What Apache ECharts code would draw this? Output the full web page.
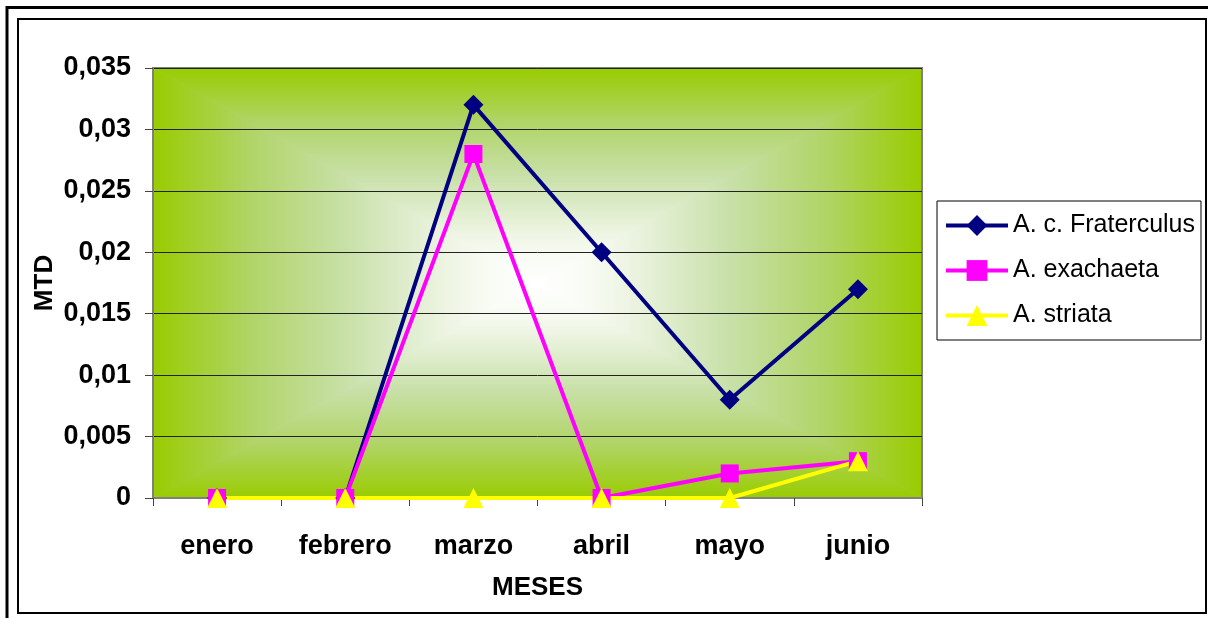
<!DOCTYPE html>
<html>
<head>
<meta charset="utf-8">
<script src="https://cdn.jsdelivr.net/npm/echarts@6/dist/echarts.min.js"></script>
<style>
html,body{margin:0;padding:0;background:#fff;}
#c{width:1208px;height:618px;}
</style>
</head>
<body>
<div id="c"></div>
<script>
var categories = ['enero', 'febrero', 'marzo', 'abril', 'mayo', 'junio'];
var fraterculus = [0, 0, 0.032, 0.020, 0.008, 0.017];
var exachaeta = [0, 0, 0.028, 0, 0.002, 0.003];
var striata = [0, 0, 0, 0, 0, 0.003];
var seriesNames = ['A. c. Fraterculus', 'A. exachaeta', 'A. striata'];

var G = {left: 153, top: 68, width: 769, height: 430};

var chart = echarts.init(document.getElementById('c'));
var font = 'Liberation Sans, Arial, sans-serif';

// edge-to-centre colour profile of the "from centre" plot-area fill
var prof = [[0, '#99cc00'], [0.25, '#b0d466'], [0.5, '#c8e0a8'], [0.64, '#dcebc8'], [0.77, '#eef5e4'], [0.88, '#f9fcf5'], [1, '#ffffff']];
function grad(x0, y0, x1, y1) {
  return new echarts.graphic.LinearGradient(x0, y0, x1, y1,
    prof.map(function (p) { return {offset: p[0], color: p[1]}; }));
}
var L = G.left, T = G.top, R = G.left + G.width, B = G.top + G.height;
var cx = L + G.width / 2, cy = T + G.height / 2;
function tri(points, g) {
  return {type: 'polygon', z: -10, silent: true, shape: {points: points},
    style: {fill: g, stroke: g, lineWidth: 1}};
}

chart.setOption({
  backgroundColor: '#ffffff',
  animation: false,
  graphic: [
    tri([[L, T], [R, T], [cx, cy]], grad(0, 0, 0, 1)),
    tri([[L, B], [R, B], [cx, cy]], grad(0, 1, 0, 0)),
    tri([[L, T], [L, B], [cx, cy]], grad(0, 0, 1, 0)),
    tri([[R, T], [R, B], [cx, cy]], grad(1, 0, 0, 0)),
    {type: 'rect', z: 10, silent: true,
      shape: {x: 18, y: 19, width: 1188, height: 594},
      style: {fill: 'none', stroke: '#000', lineWidth: 2}},
    {type: 'line', z: 10, silent: true,
      shape: {x1: 6, y1: 7.5, x2: 1208, y2: 7.5},
      style: {stroke: '#000', lineWidth: 3}},
    {type: 'line', z: 10, silent: true,
      shape: {x1: 7, y1: 6, x2: 7, y2: 618},
      style: {stroke: '#000', lineWidth: 3}}
  ],
  grid: {left: G.left, top: G.top, width: G.width, height: G.height,
    show: true, backgroundColor: 'transparent', borderColor: '#808080', borderWidth: 2},
  legend: {
    orient: 'vertical', left: 937, top: 201,
    backgroundColor: '#fff', borderColor: '#000', borderWidth: 1,
    padding: [12, 6, 12, 7], itemGap: 20,
    itemWidth: 62, itemHeight: 26,
    lineStyle: {width: 4},
    textStyle: {fontFamily: font, fontSize: 25, color: '#000'},
    data: seriesNames
  },
  xAxis: {
    type: 'category', data: categories, boundaryGap: true,
    name: 'MESES', nameLocation: 'middle', nameGap: 77,
    nameTextStyle: {fontFamily: font, fontSize: 26, fontWeight: 'bold', color: '#000'},
    axisLine: {lineStyle: {color: '#808080', width: 2}},
    axisTick: {show: true, inside: false, length: 8, lineStyle: {color: '#444'}},
    axisLabel: {fontFamily: font, fontSize: 27, fontWeight: 'bold', color: '#000', margin: 35}
  },
  yAxis: {
    type: 'value', min: 0, max: 0.035, interval: 0.005,
    name: 'MTD', nameLocation: 'middle', nameGap: 95, nameRotate: 90, nameMoveOverlap: false,
    nameTextStyle: {fontFamily: font, fontSize: 26, fontWeight: 'bold', color: '#000'},
    axisLine: {show: true, lineStyle: {color: '#808080', width: 2}},
    axisTick: {show: true, inside: false, length: 8, lineStyle: {color: '#444'}},
    splitLine: {show: true, lineStyle: {color: '#222', width: 1}},
    axisLabel: {fontFamily: font, fontSize: 27, fontWeight: 'bold', color: '#000', margin: 22,
      formatter: function (v) { return v === 0 ? '0' : String(parseFloat(v.toFixed(4))).replace('.', ','); }}
  },
  series: [
    {name: seriesNames[0], type: 'line', data: fraterculus, symbol: 'diamond', symbolSize: 20,
      lineStyle: {color: '#000080', width: 4}, itemStyle: {color: '#000080'}},
    {name: seriesNames[1], type: 'line', data: exachaeta, symbol: 'rect', symbolSize: 18,
      lineStyle: {color: '#ff00ff', width: 4}, itemStyle: {color: '#ff00ff'}},
    {name: seriesNames[2], type: 'line', data: striata, symbol: 'triangle', symbolSize: 20,
      lineStyle: {color: '#ffff00', width: 4}, itemStyle: {color: '#ffff00'}}
  ]
});
</script>
</body>
</html>
